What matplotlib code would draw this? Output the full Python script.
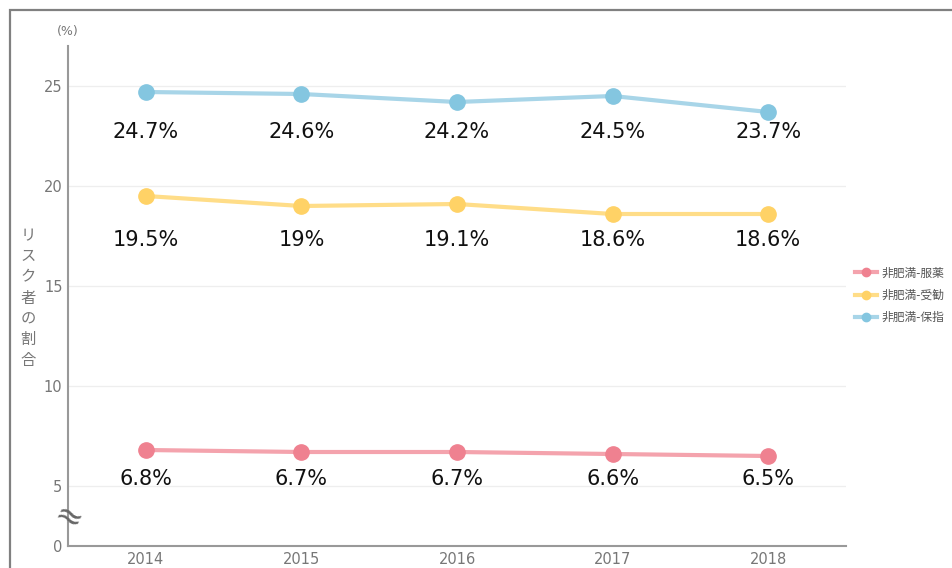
import matplotlib
matplotlib.use("Agg")
import matplotlib.pyplot as plt
from matplotlib.patches import Rectangle
from matplotlib.lines import Line2D

plt.rcParams['font.family'] = ['DejaVu Sans', 'Noto Sans CJK JP']

years = [2014, 2015, 2016, 2017, 2018]
hoshi = [24.7, 24.6, 24.2, 24.5, 23.7]      # 非肥満-保指
jukan = [19.5, 19.0, 19.1, 18.6, 18.6]      # 非肥満-受勧
fukuyaku = [6.8, 6.7, 6.7, 6.6, 6.5]        # 非肥満-服薬
hoshi_labels = ["24.7%", "24.6%", "24.2%", "24.5%", "23.7%"]
jukan_labels = ["19.5%", "19%", "19.1%", "18.6%", "18.6%"]
fukuyaku_labels = ["6.8%", "6.7%", "6.7%", "6.6%", "6.5%"]
series_names = ["非肥満-服薬", "非肥満-受勧", "非肥満-保指"]
ytick_vals = [2, 5, 10, 15, 20, 25]
ytick_labels = ["0", "5", "10", "15", "20", "25"]

W, H = 952, 568
fig = plt.figure(figsize=(W / 100, H / 100), dpi=100)
ax = fig.add_axes([68 / W, (H - 546) / H, (846 - 68) / W, (546 - 46) / H])

# outer border
fig.patches.append(Rectangle((10 / W, -0.1), 1.2, (H - 10) / H + 0.1,
                             transform=fig.transFigure, fill=False,
                             edgecolor="#808080", linewidth=1.6))

ax.set_xlim(2013.5, 2018.5)
ax.set_ylim(2, 27)

for y in [5, 10, 15, 20, 25]:
    ax.axhline(y, color="#eeeeee", linewidth=0.9, zorder=0)

# (values, labels, line colour, marker colour, label row in axes fraction)
styles = [
    (fukuyaku, fukuyaku_labels, "#f4a3ad", "#ef8190", (546 - 479) / 500),
    (jukan, jukan_labels, "#ffdd88", "#ffd266", (546 - 240) / 500),
    (hoshi, hoshi_labels, "#a8d5e8", "#84c6e0", (546 - 132) / 500),
]
handles = []
for (vals, labs, lc, mc, row), name in zip(styles, series_names):
    ax.plot(years, vals, color=lc, linewidth=3, zorder=2)
    ax.plot(years, vals, linestyle="none", marker="o", markersize=11,
            markerfacecolor=mc, markeredgecolor=mc, zorder=3)
    for x, t in zip(years, labs):
        ax.text(x, row, t, transform=ax.get_xaxis_transform(),
                ha="center", va="center", fontsize=15, color="#111111")
    handles.append(Line2D([0], [0], color=lc, linewidth=3, marker="o",
                          markersize=6, markerfacecolor=mc, markeredgecolor=mc))

for s in ["top", "right"]:
    ax.spines[s].set_visible(False)
for s in ["left", "bottom"]:
    ax.spines[s].set_color("#999999")
    ax.spines[s].set_linewidth(1.5)

ax.set_xticks(years)
ax.set_xticklabels([str(y) for y in years])
ax.set_yticks(ytick_vals)
ax.set_yticklabels(ytick_labels)
ax.tick_params(axis="both", length=0, colors="#777777", labelsize=10.5)
ax.tick_params(axis="y", pad=4)
ax.tick_params(axis="x", pad=4)

# axis break mark
ax.text(2013.5, 3.4, "≈", rotation=-25, ha="center", va="center",
        fontsize=24, color="#666666", zorder=5, clip_on=False)

fig.text(68 / W, 1 - 32 / H, "(%)", ha="center", va="center",
         fontsize=9, color="#777777")
fig.text(28 / W, 1 - 298 / H, "\n".join("リスク者の割合"), ha="center",
         va="center", fontsize=11, color="#777777", linespacing=1.3,
         family=['Noto Sans CJK JP', 'DejaVu Sans'])

leg = fig.legend(handles, series_names, loc="upper left",
                 bbox_to_anchor=(853 / W, 1 - 264 / H), frameon=False,
                 handlelength=1.8, handletextpad=0.4, borderaxespad=0,
                 borderpad=0.2, labelspacing=0.8, labelcolor="#555555",
                 prop={'family': ['Noto Sans CJK JP'], 'size': 8.5})

fig.savefig("out.png", dpi=100)
